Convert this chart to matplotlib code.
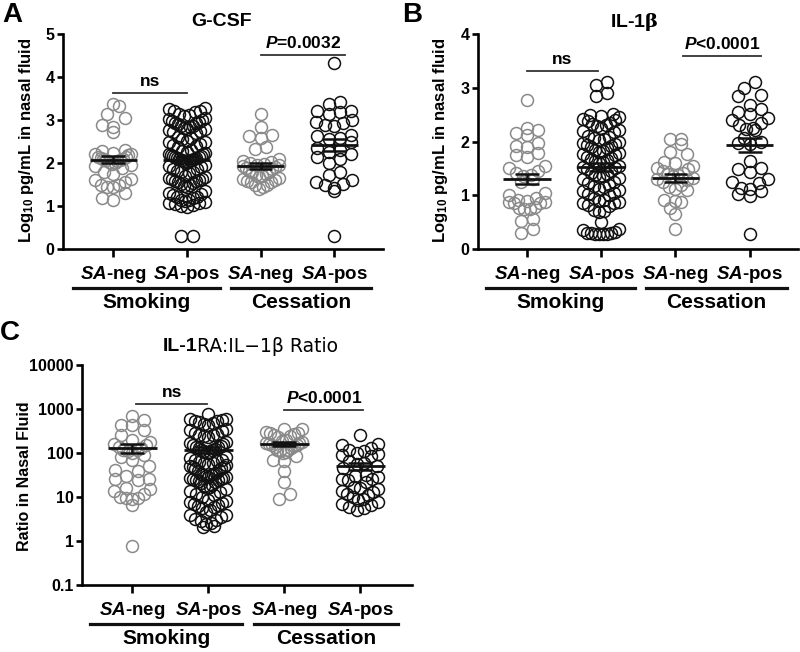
import numpy as np
import matplotlib
matplotlib.use("Agg")
import matplotlib.pyplot as plt
from matplotlib import transforms

plt.rcParams['font.family'] = ['Liberation Sans', 'DejaVu Sans']
plt.rcParams['font.weight'] = 'bold'
plt.rcParams['mathtext.fontset'] = 'custom'
plt.rcParams['mathtext.rm'] = 'Liberation Sans:bold'
plt.rcParams['mathtext.it'] = 'Liberation Sans:italic:bold'
plt.rcParams['mathtext.bf'] = 'Liberation Sans:bold'
plt.rcParams['mathtext.sf'] = 'DejaVu Serif'

# categories
tick_labels = [r'$\mathit{SA}$-neg', r'$\mathit{SA}$-pos', r'$\mathit{SA}$-neg', r'$\mathit{SA}$-pos']
phases = ['Smoking', 'Cessation']

# Panel A: G-CSF, log10 pg/mL
gcsf_smk_neg = [3.37, 3.33, 3.14, 3.05, 2.89, 2.83, 2.73, 2.3, 2.27, 2.24, 2.22, 2.2, 2.18, 2.15,
                2.15, 2.12, 2.1, 2.1, 2.08, 2.06, 2.05, 2.03, 2.0, 1.98, 1.95, 1.92, 1.88, 1.8,
                1.75, 1.62, 1.6, 1.55, 1.5, 1.5, 1.45, 1.45, 1.3, 1.18, 1.15]
gcsf_smk_pos = [3.27, 3.25, 3.22, 3.2, 3.18, 3.15, 3.12, 3.1,
                3.05, 3.02, 3.0, 2.98, 2.95, 2.93, 2.92, 2.9, 2.87, 2.85, 2.83, 2.82, 2.8, 2.78, 2.77,
                2.75, 2.72, 2.7,
                2.6, 2.57, 2.55, 2.52, 2.5, 2.48, 2.45, 2.42, 2.4, 2.38,
                2.3, 2.28, 2.25, 2.23, 2.21, 2.2, 2.18, 2.17, 2.16, 2.14, 2.13, 2.12, 2.11, 2.1, 2.09,
                2.08, 2.07, 2.06, 2.04, 2.02, 2.0,
                1.95, 1.92, 1.9, 1.87, 1.85, 1.82, 1.8, 1.78, 1.76,
                1.7, 1.67, 1.65, 1.63, 1.62, 1.6, 1.58, 1.57, 1.55, 1.53, 1.52, 1.5, 1.47, 1.45,
                1.35, 1.3, 1.28, 1.25, 1.22, 1.2, 1.18, 1.15, 1.14, 1.12, 1.1, 1.08, 1.07, 1.05,
                1.02, 1.0, 0.98, 0.3, 0.3]
gcsf_ces_neg = [3.14, 2.83, 2.66, 2.62, 2.57, 2.37, 2.32, 2.1, 2.05, 2.02, 2.0, 1.98, 1.96, 1.95,
                1.93, 1.9, 1.88, 1.85, 1.82, 1.8, 1.78, 1.75, 1.72, 1.7, 1.68, 1.65, 1.62, 1.6,
                1.58, 1.55, 1.55, 1.5, 1.48, 1.45, 1.4]
gcsf_ces_pos = [4.33, 3.42, 3.38, 3.22, 3.2, 3.18, 3.15, 3.0, 2.95, 2.92, 2.88, 2.85, 2.65, 2.62,
                2.58, 2.55, 2.5, 2.35, 2.3, 2.25, 2.2, 2.15, 2.1, 2.0, 1.8, 1.72, 1.6, 1.55, 1.52,
                1.48, 1.42, 1.35, 0.3]

# Panel B: IL-1beta, log10 pg/mL
il1b_smk_neg = [2.78, 2.25, 2.22, 2.15, 2.12, 1.97, 1.92, 1.9, 1.78, 1.75, 1.72, 1.55, 1.5, 1.45,
                1.42, 1.38, 1.35, 1.3, 1.25, 1.05, 1.0, 0.95, 0.92, 0.9, 0.88, 0.88, 0.86, 0.85,
                0.78, 0.76, 0.75, 0.74, 0.55, 0.53, 0.38, 0.3]
il1b_smk_pos = [3.1, 3.05, 2.9, 2.85,
                2.52, 2.5, 2.48, 2.45, 2.42, 2.4, 2.38, 2.35, 2.32, 2.3, 2.28, 2.25, 2.22, 2.2, 2.18,
                2.1, 2.08, 2.06, 2.05, 2.03, 2.0, 1.98, 1.96, 1.94, 1.92, 1.9, 1.88,
                1.85, 1.82, 1.8, 1.78, 1.76, 1.74, 1.72, 1.7, 1.68, 1.66, 1.64, 1.62, 1.6,
                1.55, 1.52, 1.5, 1.48, 1.45, 1.42, 1.4, 1.38, 1.36, 1.34, 1.32, 1.3,
                1.25, 1.22, 1.2, 1.18, 1.15, 1.12, 1.1, 1.08, 1.05, 1.02, 1.0,
                0.95, 0.92, 0.9, 0.88, 0.86, 0.85, 0.82, 0.8,
                0.72, 0.7, 0.68, 0.5,
                0.38, 0.35, 0.32, 0.3, 0.3, 0.28, 0.28, 0.28, 0.28, 0.3]
il1b_ces_neg = [2.04, 2.04, 1.95, 1.8, 1.76, 1.62, 1.6, 1.55, 1.5, 1.48, 1.45, 1.42, 1.4, 1.38,
                1.35, 1.32, 1.3, 1.28, 1.25, 1.2, 1.15, 1.12, 1.1, 0.92, 0.9, 0.88, 0.76, 0.65, 0.38]
il1b_ces_pos = [3.1, 3.0, 2.86, 2.84, 2.68, 2.6, 2.55, 2.52, 2.44, 2.4, 2.35, 2.3, 2.26, 2.24,
                2.22, 2.07, 2.0, 1.98, 1.96, 1.63, 1.5, 1.48, 1.43, 1.3, 1.25, 1.22, 1.14, 1.12,
                1.08, 1.02, 0.98, 0.28]

# Panel C: IL-1RA:IL-1beta ratio
ratio_smk_neg = [680, 560, 440, 430, 330, 260, 200, 180, 160, 150, 140, 130, 120, 115, 110, 100,
                 90, 80, 70, 50, 42, 38, 30, 26, 25, 24, 16, 15, 14, 12, 10, 9.5, 9.5, 9, 6.5, 0.75]
ratio_smk_pos = [780,
                 600, 580, 560, 540, 520, 500, 480, 460, 440,
                 350, 330, 310, 290, 270, 260, 250, 240, 230,
                 180, 170, 160, 150, 145, 140, 135, 130, 125, 120, 115, 110, 105, 100,
                 80, 75, 70, 68, 65, 62, 60, 58, 55, 52, 50, 48, 47, 45, 44, 42,
                 38, 36, 34, 33, 32, 31, 30, 29, 28, 27, 27, 26, 25, 24, 24, 23, 22,
                 21, 19, 18, 17, 16, 15, 14, 13, 12, 11, 10,
                 8.5, 8, 7.5, 7.2, 7, 6.5, 6.2, 6, 5.5, 5,
                 4.5, 4, 3.8, 3.5, 3.2, 3.0, 2.8, 2.6, 2.4, 2.2, 2.1]
ratio_ces_neg = [360, 350, 300, 290, 280, 270, 250, 240, 230, 200, 190, 180, 170, 165, 160, 155,
                 150, 145, 140, 130, 120, 115, 110, 105, 100, 85, 70, 65, 40, 22, 11.5, 9]
ratio_ces_pos = [250, 160, 150, 130, 120, 110, 100, 95, 90, 85, 65, 60, 55, 50, 45, 32, 30, 28,
                 26, 25, 24, 22, 17, 16, 15, 14, 13, 12, 11, 10, 9, 8.5, 7.5, 7, 6.5, 6, 5.5, 5]

GREY = '#8a8a8a'
BLACK = '#111111'
colors = [GREY, BLACK, GREY, BLACK]

fig = plt.figure(figsize=(8, 6.52), dpi=100)


def swarm(ax, xc, vals, diam=12.0, maxw=36.0):
    # prism-like rows: bin by pixel height, spread sideways, lowest in the middle
    vals = np.asarray(vals, float)
    pts = ax.transData.transform(np.column_stack([np.full(len(vals), xc), vals]))
    y0 = ax.transData.transform((xc, ax.get_ylim()[0]))[1]
    bins = np.floor((pts[:, 1] - y0) / diam).astype(int)
    xs = pts[:, 0].copy()
    for b in np.unique(bins):
        idx = np.where(bins == b)[0]
        idx = idx[np.argsort(pts[idx, 1])]
        n = len(idx)
        step = diam * 0.95 if n < 2 else min(diam * 0.95, maxw / (n - 1))
        offs = (np.arange(n) - (n - 1) / 2) * step
        offs = offs[np.argsort(np.abs(offs), kind='stable')]
        xs[idx] = pts[idx, 0] + offs
    back = ax.transData.inverted().transform(np.column_stack([xs, pts[:, 1]]))
    return back[:, 0]


def panel(rect, data, ylim, yticks, xlim, log=False, yticklabels=None):
    ax = fig.add_axes(rect)
    if log:
        ax.set_yscale('log')
    ax.set_ylim(*ylim)
    ax.set_xlim(*xlim)
    for s in ['top', 'right']:
        ax.spines[s].set_visible(False)
    for s in ['left', 'bottom']:
        ax.spines[s].set_linewidth(1.9)
    ax.set_yticks(yticks)
    if yticklabels is not None:
        ax.set_yticklabels(yticklabels)
    ax.yaxis.set_minor_locator(matplotlib.ticker.NullLocator())
    ax.set_xticks(range(4))
    ax.set_xticklabels(tick_labels, fontsize=13.5)
    ax.tick_params(axis='x', length=5.5, width=1.9, pad=5)
    ax.tick_params(axis='y', length=4, width=1.9, pad=2, labelsize=11.5)

    for i, vals in enumerate(data):
        xs = swarm(ax, i, vals)
        ax.plot(xs, vals, 'o', ms=8.6, mfc='none', mec=colors[i], mew=1.1,
                clip_on=False, zorder=3)
        v = np.asarray(vals, float)
        m = v.mean()
        se = v.std(ddof=1) / np.sqrt(len(v))
        ax.hlines(m, i - 0.32, i + 0.32, color=BLACK, lw=2.0, zorder=5)
        ax.vlines(i, m - se, m + se, color=BLACK, lw=1.8, zorder=5)
        ax.hlines([m - se, m + se], i - 0.16, i + 0.16, color=BLACK, lw=1.8, zorder=5)

    # group underline + label under the tick labels
    tr_line = transforms.offset_copy(ax.get_xaxis_transform(), fig=fig, y=-39, units='dots')
    tr_text = transforms.offset_copy(ax.get_xaxis_transform(), fig=fig, y=-54, units='dots')
    for (x0, x1), name in zip([(-0.55, 1.45), (1.6, 3.5)], phases):
        ax.plot([x0, x1], [0, 0], color=BLACK, lw=2.3, transform=tr_line, clip_on=False)
        ax.text((x0 + x1) / 2, 0, name, transform=tr_text, ha='center', va='center',
                fontsize=15)
    return ax


def sig(ax, x0, x1, y, label, ylog=False):
    ax.plot([x0, x1], [y, y], color='#333333', lw=1.3, clip_on=False)
    ax.annotate(label, xy=((x0 + x1) / 2, y), xytext=(0, 3), textcoords='offset points',
                ha='center', va='bottom', fontsize=12.5)


# Panel A
axA = panel([63 / 800, 403 / 652, 320 / 800, 215 / 652],
            [gcsf_smk_neg, gcsf_smk_pos, gcsf_ces_neg, gcsf_ces_pos],
            (0, 5), [0, 1, 2, 3, 4, 5], (-0.68, 3.66))
sig(axA, 0, 1, 3.63, 'ns')
sig(axA, 2, 3.15, 4.51, r'$\mathit{P}$=0.0032')
fig.text(222 / 800, 1 - 22 / 652, 'G-CSF', ha='center', va='center', fontsize=14)
fig.text(27 / 800, 1 - 140 / 652, r'Log$_{10}$ pg/mL in nasal fluid', rotation=90,
         ha='center', va='center', fontsize=12)
fig.text(12 / 800, 1 - 15 / 652, 'A', ha='center', va='center', fontsize=20)

# Panel B
axB = panel([478 / 800, 403 / 652, 320 / 800, 215 / 652],
            [il1b_smk_neg, il1b_smk_pos, il1b_ces_neg, il1b_ces_pos],
            (0, 4), [0, 1, 2, 3, 4], (-0.66, 3.65))
sig(axB, 0, 0.95, 3.31, 'ns')
sig(axB, 2.1, 3.15, 3.59, r'$\mathit{P}$<0.0001')
fig.text(634 / 800, 1 - 22 / 652, r'IL-1$\mathsf{\beta}$', ha='center', va='center', fontsize=14)
fig.text(440 / 800, 1 - 140 / 652, r'Log$_{10}$ pg/mL in nasal fluid', rotation=90,
         ha='center', va='center', fontsize=12)
fig.text(412 / 800, 1 - 15 / 652, 'B', ha='center', va='center', fontsize=20)

# Panel C
axC = panel([82 / 800, 67 / 652, 330 / 800, 220 / 652],
            [ratio_smk_neg, ratio_smk_pos, ratio_ces_neg, ratio_ces_pos],
            (0.1, 10000), [0.1, 1, 10, 100, 1000, 10000], (-0.66, 3.68), log=True,
            yticklabels=['0.1', '1', '10', '100', '1000', '10000'])
sig(axC, 0.05, 0.99, 1290, 'ns')
sig(axC, 2.0, 3.04, 950, r'$\mathit{P}$<0.0001')
fig.text(197 / 800, 1 - 346 / 652, 'IL-1', ha='right', va='center', fontsize=14)
fig.text(197 / 800, 1 - 346 / 652, 'RA:IL\u22121\u03b2 Ratio', ha='left', va='center',
         fontsize=13.5, fontweight='normal', family=['DejaVu Sans'])
fig.text(25 / 800, 1 - 476 / 652, 'Ratio in Nasal Fluid', rotation=90,
         ha='center', va='center', fontsize=11.5)
fig.text(10 / 800, 1 - 333 / 652, 'C', ha='center', va='center', fontsize=20)

fig.savefig('out.png', dpi=100)
